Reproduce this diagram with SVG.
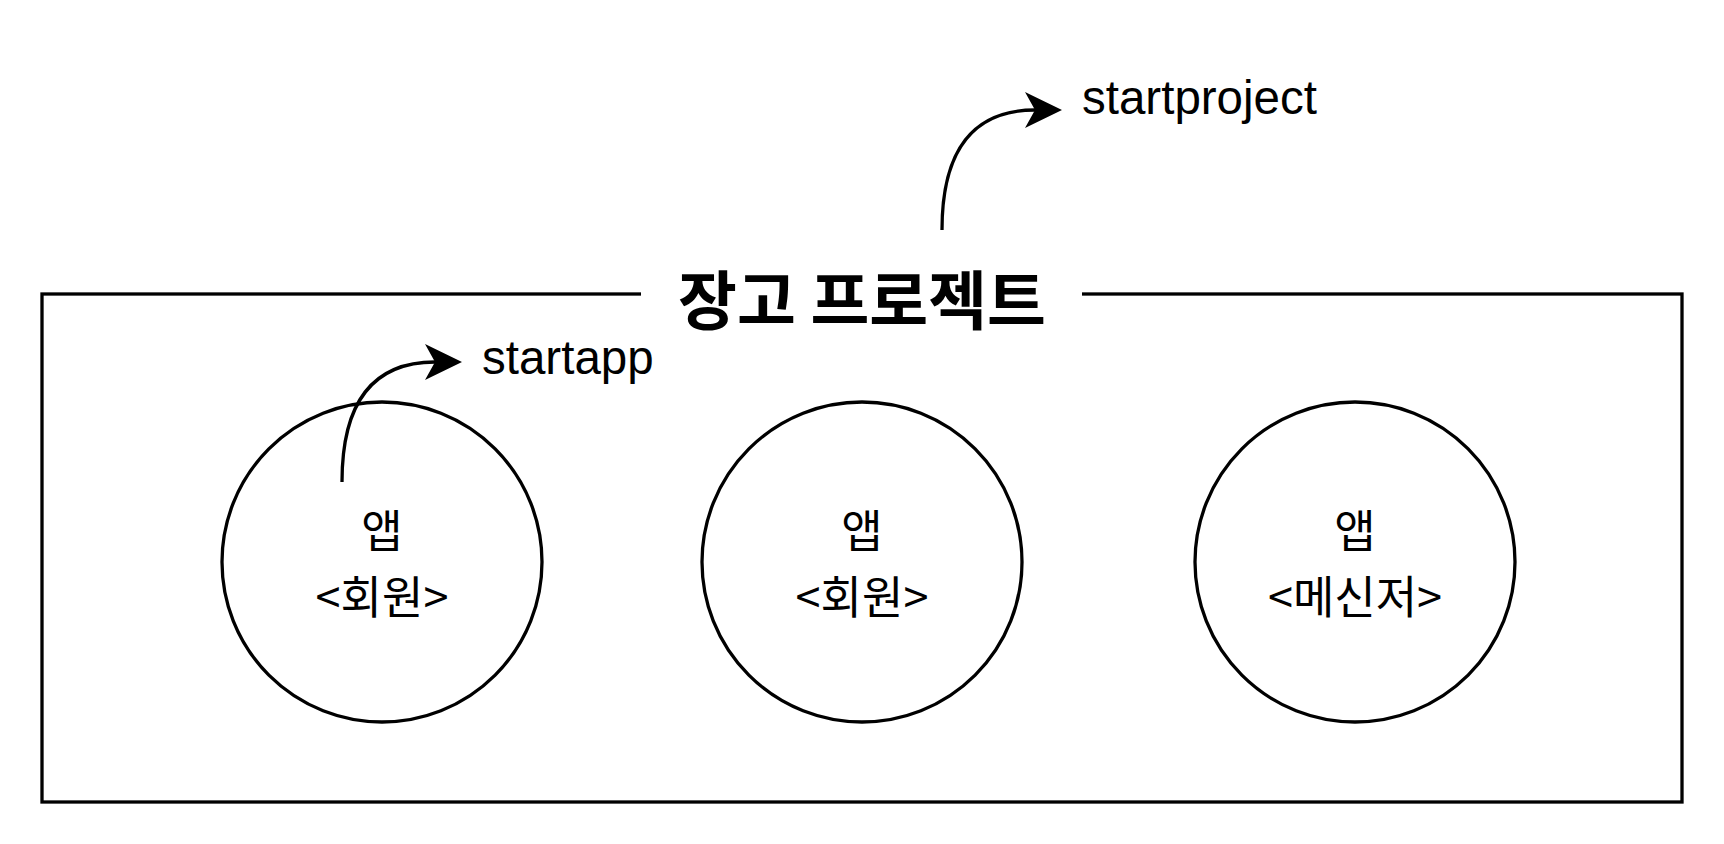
<svg xmlns="http://www.w3.org/2000/svg" width="1724" height="844" viewBox="0 0 1724 844">
<style>
.ln{fill:none;stroke:#000;stroke-width:3.3}
.lbl{font-family:"Noto Sans CJK KR","Liberation Sans",sans-serif;font-size:45px;text-anchor:middle;dominant-baseline:central;fill:#000}
.cmd{font-family:"Liberation Sans",Arial,sans-serif;font-size:47.5px;fill:#000}
.title{font-family:"Noto Sans CJK KR",sans-serif;font-size:64px;font-weight:bold;text-anchor:middle;dominant-baseline:central;fill:#000}
</style>
<defs>
<marker id="arr" markerUnits="userSpaceOnUse" markerWidth="40" markerHeight="40" refX="10" refY="18" orient="auto">
<path d="M0,0 L37,18 L0,36 L10,18 Z" fill="#000"/>
</marker>
</defs>
<rect width="1724" height="844" fill="#fff"/>
<g id="project">
<rect class="ln" x="42" y="294" width="1640" height="508"/>
<rect x="641" y="280" width="441" height="30" fill="#fff"/>
<text class="title" x="862" y="296">장고 프로젝트</text>
</g>
<g id="app1">
<circle class="ln" cx="382" cy="562" r="160"/>
<text class="lbl" x="382" y="528">앱</text>
<text class="lbl" x="382" y="594">&lt;회원&gt;</text>
</g>
<g id="app2">
<circle class="ln" cx="862" cy="562" r="160"/>
<text class="lbl" x="862" y="528">앱</text>
<text class="lbl" x="862" y="594">&lt;회원&gt;</text>
</g>
<g id="app3">
<circle class="ln" cx="1355" cy="562" r="160"/>
<text class="lbl" x="1355" y="528">앱</text>
<text class="lbl" x="1355" y="594">&lt;메신저&gt;</text>
</g>
<g id="connectors">
<path class="ln" d="M942,230 Q942,110 1035,110" marker-end="url(#arr)"/>
<path class="ln" d="M342,482 Q342,362 435,362" marker-end="url(#arr)"/>
</g>
<g id="labels">
<text class="cmd" x="1082" y="114">startproject</text>
<text class="cmd" x="482" y="374">startapp</text>
</g>
</svg>
